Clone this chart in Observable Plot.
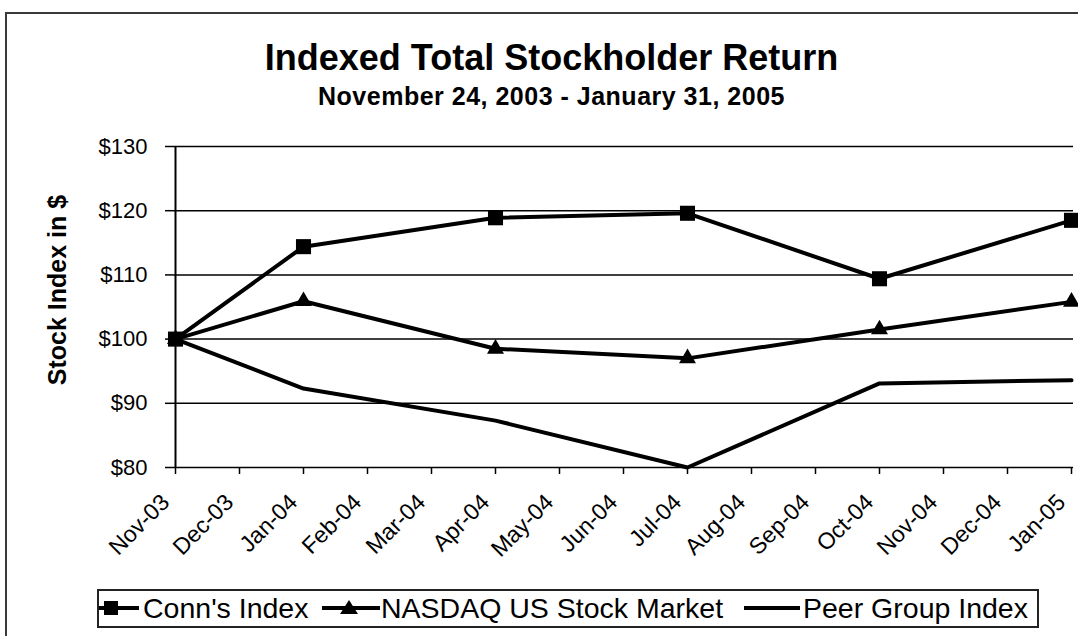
<!DOCTYPE html>
<html>
<head>
<meta charset="utf-8">
<script src="https://cdn.jsdelivr.net/npm/d3@7"></script>
<script src="https://cdn.jsdelivr.net/npm/@observablehq/plot@0.6"></script>
<style>
  html, body { margin: 0; padding: 0; background: #fff; width: 1078px; height: 636px; overflow: hidden; }
  body { font-family: "Liberation Sans", Arial, sans-serif; color: #000; position: relative; }
  #frame { position: absolute; left: 5px; top: 12px; width: 1200px; height: 800px; border: 2px solid #3a3a3a; box-sizing: border-box; }
  #title { position: absolute; left: 0; width: 1103px; top: 38px; text-align: center; font-weight: bold; font-size: 36px; line-height: 40px; }
  #subtitle { position: absolute; left: 0; width: 1103px; top: 82px; text-align: center; font-weight: bold; font-size: 25px; letter-spacing: 0.5px; line-height: 28px; }
  #chart { position: absolute; left: 0; top: 120px; }
  #legend { position: absolute; left: 97px; top: 589px; width: 942px; height: 39px; border: 2px solid #222; box-sizing: border-box; background: #fff; }
  .sym { position: absolute; top: 2px; display: block; }
  .lab { position: absolute; top: 0; height: 35px; line-height: 35px; font-size: 28.5px; white-space: nowrap; }
</style>
</head>
<body>
<div id="frame"></div>
<div id="title">Indexed Total Stockholder Return</div>
<div id="subtitle">November 24, 2003 - January 31, 2005</div>
<div id="chart"></div>
<div id="legend"></div>
<script>
// ---- data ----
const months = ["Nov-03","Dec-03","Jan-04","Feb-04","Mar-04","Apr-04","May-04","Jun-04","Jul-04","Aug-04","Sep-04","Oct-04","Nov-04","Dec-04","Jan-05"];
const dataMonths = ["Nov-03","Jan-04","Apr-04","Jul-04","Oct-04","Jan-05"];
const connsIndex = [100, 114.4, 118.9, 119.6, 109.4, 118.5];
const nasdaqIndex = [100, 105.9, 98.5, 97.0, 101.5, 105.8];
const peerIndex = [100, 92.3, 87.3, 80.0, 93.1, 93.6];
const seriesNames = ["Conn's Index", "NASDAQ US Stock Market", "Peer Group Index"];
const yTicks = [80, 90, 100, 110, 120, 130];
const yLabel = "Stock Index in $";

const rows = [];
[connsIndex, nasdaqIndex, peerIndex].forEach((vals, i) => {
  vals.forEach((v, j) => rows.push({series: seriesNames[i], month: dataMonths[j], value: v}));
});

const chart = Plot.plot({
  width: 1078,
  height: 470,
  marginLeft: 173,
  marginRight: 5,
  marginTop: 26,
  marginBottom: 123,
  style: {fontFamily: "'Liberation Sans', Arial, sans-serif", color: "#000", background: "transparent", overflow: "visible"},
  x: {type: "point", domain: months, padding: 0},
  y: {domain: [80, 130]},
  marks: [
    Plot.ruleY(yTicks, {stroke: "#000", strokeWidth: 1.5}),
    Plot.ruleX([months[0]], {y1: 80, y2: 130, stroke: "#000", strokeWidth: 2}),
    Plot.axisY({ticks: yTicks, tickFormat: d => "$" + d, tickSize: 8, tickPadding: 18, fontSize: 22, stroke: "#000", strokeWidth: 1.5, label: null}),
    Plot.axisX({tickSize: 7, tickFormat: () => "", stroke: "#000", strokeWidth: 1.5, label: null}),
    Plot.axisX({tickSize: 0, tickPadding: 11, tickRotate: -45, fontSize: 23, dx: -10, dy: 20, label: null}),
    Plot.line(rows, {x: "month", y: "value", z: "series", stroke: "#000", strokeWidth: 4, strokeLinejoin: "miter"}),
    Plot.dot(rows.filter(d => d.series === seriesNames[0]), {x: "month", y: "value", symbol: "square", r: 8.5, fill: "#000", stroke: null}),
    Plot.dot(rows.filter(d => d.series === seriesNames[1]), {x: "month", y: "value", symbol: "triangle", r: 6.3, fill: "#000", stroke: null})
  ]
});
document.getElementById("chart").append(chart);

// y-axis title
d3.select(chart).append("text")
  .attr("transform", "translate(66,170) rotate(-90)")
  .attr("text-anchor", "middle")
  .attr("font-weight", "bold")
  .attr("font-size", 25)
  .attr("fill", "#000")
  .text(yLabel);

// legend
const legend = document.getElementById("legend");
const items = [
  {name: seriesNames[0], symLeft: 0, symW: 40, markX: 12, textLeft: 44, symbol: "square"},
  {name: seriesNames[1], symLeft: 223, symW: 58, markX: 27, textLeft: 282, symbol: "triangle"},
  {name: seriesNames[2], symLeft: 645, symW: 56, markX: null, textLeft: 704, symbol: null}
];
items.forEach(it => {
  const s = d3.create("svg").attr("class", "sym").attr("width", it.symW).attr("height", 30)
    .style("left", it.symLeft + "px");
  s.append("line").attr("x1", 0).attr("x2", it.symW).attr("y1", 15).attr("y2", 15).attr("stroke", "#000").attr("stroke-width", 4);
  if (it.symbol === "square") s.append("rect").attr("x", it.markX - 7).attr("y", 8).attr("width", 14).attr("height", 14).attr("fill", "#000");
  if (it.symbol === "triangle") s.append("path").attr("d", `M${it.markX},7 L${it.markX + 9},21 L${it.markX - 9},21 Z`).attr("fill", "#000");
  legend.append(s.node());
  const t = document.createElement("div");
  t.className = "lab";
  t.style.left = it.textLeft + "px";
  t.textContent = it.name;
  legend.append(t);
});
</script>
</body>
</html>
